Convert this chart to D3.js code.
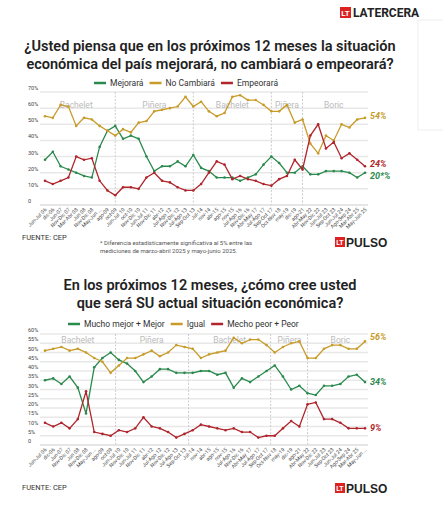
<!DOCTYPE html><html><head><meta charset="utf-8"><script src="https://cdn.jsdelivr.net/npm/d3@7"></script>
<style>body{margin:0;background:#fff;font-family:Roboto,"Open Sans",sans-serif}</style></head><body><svg id="c" width="443" height="505"></svg><script>
const labels1=["Jun-Jul 06","dic-06","Jun-07","Nov-Dic 07","Mar-Abr 08","Jun 08","Nov-Dic 08","May-Jun ...","ago-09","oct-09","Jun-Jul 10","oct-10","Nov-Dic 10","Jun-Jul 11","Nov-Dic 11","abr-12","Jul-Ago 12","Nov-Dic 12","Jul-Ago 13","Sep-Oct 13","Jul-14","nov-14","abr-15","ago-15","nov-15","Jul-Ago 16","Nov-Dic 16","Abr-May 17","Jul-Ago 17","Sep-Oct 17","Oct-Nov 18","may-19","dic-19","ago-21","Abr-May 22","Nov-Dic 22","Jun-Jul 23","Sep-Oct 23","Jun-Jul 24","Ago-Sep 24","Mar-Abr 25","May-Jun 25"];
const mejorara=[28,33,24,22,20,18,17,36,46,49,41,43,41,30,21,24,24,27,24,31,23,21,17,17,17,15,17,19,25,30,26,20,20,24,19,19,21,21,21,20,17,20];
const noCambiara=[55,54,62,61,49,54,53,49,46,43,47,45,51,52,58,59,60,61,67,61,64,58,55,57,67,68,65,65,62,58,58,62,51,53,38,32,43,40,50,48,53,54];
const empeorara=[15,13,15,17,30,28,29,15,9,6,11,11,10,17,20,15,14,11,9,9,13,20,27,25,16,18,16,15,13,12,16,18,28,22,43,50,35,39,29,32,28,24];
const labels2=["Jun-Jul 06","dic-06","Jun-07","Nov-Dic 07","Jun 08","Nov-Dic 08","May-Jun ...","ago-09","oct-09","Jun-Jul 10","Nov-Dic 10","Jun-Jul 11","Nov-Dic 11","abr-12","Jul-Ago 12","Nov-Dic 12","Jul-Ago 13","Sep-Oct 13","Jul-14","nov-14","abr-15","ago-15","nov-15","Jul-Ago 16","Nov-Dic 16","Abr-May 17","Jul-Ago 17","Sep-Oct 17","Oct-Nov 18","may-19","dic-19","ago-21","Abr-May 22","Nov-Dic 22","Jun-Jul 23","Sep-Oct 23","Jun-Jul 24","Ago-Sep 24","Mar-Abr 25","May-Jun ..."];
const mejor=[35,36,33,37,31,17,42,47,50,46,44,40,34,37,41,41,39,39,39,40,40,38,39,31,36,34,37,40,43,37,30,32,28,27,32,32,33,37,38,34];
const igual=[51,52,53,51,52,50,47,45,39,43,47,47,49,51,48,50,54,53,52,47,49,50,51,58,55,57,57,54,50,53,55,56,47,47,52,54,54,52,52,56];
const peor=[12,10,12,9,14,29,7,6,5,8,7,9,15,10,9,7,4,6,8,11,10,9,8,9,7,7,4,5,5,9,13,10,22,23,14,14,12,9,9,9];
const G="#2a8a4e",Y="#c89b2a",R="#b0252c";
const svg=d3.select("#c");
svg.append("rect").attr("x",340).attr("y",7).attr("width",11).attr("height",11).attr("fill","#d22");
svg.append("text").attr("x",345.5).attr("y",16).attr("text-anchor","middle").attr("fill","#fff").attr("font-size",8).attr("font-weight",700).text("LT");
svg.append("text").attr("x",353).attr("y",17).attr("font-size",12).attr("font-weight",700).attr("fill","#222").text("LATERCERA");
svg.append("rect").attr("x",418).attr("y",20).attr("width",30).attr("height",110).attr("fill","none").attr("stroke","#eee");
function pulso(x,y){svg.append("rect").attr("x",x).attr("y",y-9).attr("width",10).attr("height",10).attr("fill","#d22");
svg.append("text").attr("x",x+5).attr("y",y-1).attr("text-anchor","middle").attr("fill","#fff").attr("font-size",7).attr("font-weight",700).text("LT");
svg.append("text").attr("x",x+11).attr("y",y+1).attr("font-size",12).attr("font-weight",700).attr("font-family","'Liberation Sans Narrow',sans-serif").attr("fill","#222").text("PULSO");}
function chart(o){
 o.title.forEach((t,i)=>svg.append("text").attr("x",210).attr("y",o.ty+i*18).attr("text-anchor","middle").attr("font-size",14.5).attr("font-weight",600).attr("fill","#222").text(t));
 let lx=o.legX;o.series.forEach(s=>{svg.append("line").attr("x1",lx).attr("x2",lx+12).attr("y1",o.ly).attr("y2",o.ly).attr("stroke",s.c).attr("stroke-width",2.5);
  const t=svg.append("text").attr("x",lx+16).attr("y",o.ly+3).attr("font-size",8.5).attr("fill","#333").text(s.n);lx+=16+t.node().getComputedTextLength()+6;});
 const x=d3.scaleLinear().domain([0,o.labels.length-1]).range([45,365]);
 const y=d3.scaleLinear().domain([0,o.max]).range([o.y0,o.y1]);
 const g=svg.append("g");
 o.ticks.forEach(v=>{g.append("line").attr("x1",40).attr("x2",368).attr("y1",y(v)).attr("y2",y(v)).attr("stroke",v==0?"#ccc":"#e8e8e8").attr("stroke-width",v==0?1:1.5);
  g.append("text").attr("x",28).attr("y",y(v)-2).attr("font-size",5.5).attr("fill","#444").text(v==0?"0":v+"%");});
 o.div.forEach(d=>g.append("line").attr("x1",x(d)).attr("x2",x(d)).attr("y1",o.y1).attr("y2",o.y0).attr("stroke","#ccc").attr("stroke-dasharray","2,1.5"));
 o.pres.forEach(p=>g.append("text").attr("x",x(p[1])).attr("y",o.py).attr("text-anchor","middle").attr("font-size",8.5).attr("fill","#bbb").text(p[0]));
 o.series.forEach(s=>{g.append("path").datum(s.v).attr("fill","none").attr("stroke",s.c).attr("stroke-width",1.3).attr("d",d3.line().x((d,i)=>x(i)).y(d=>y(d)));
  g.selectAll(null).data(s.v).join("circle").attr("cx",(d,i)=>x(i)).attr("cy",d=>y(d)).attr("r",1.3).attr("fill",s.c);
  g.append("text").attr("x",370).attr("y",y(s.v[s.v.length-1])+3+(s.dy||0)).attr("font-size",9).attr("font-weight",700).attr("font-style","italic").attr("fill",s.c).text(s.end);});
 o.labels.forEach((l,i)=>g.append("text").attr("transform",`translate(${x(i)+2},${o.y0+5}) rotate(-45)`).attr("text-anchor","end").attr("font-size",5.2).attr("fill","#444").text(l));
}
chart({title:["¿Usted piensa que en los próximos 12 meses la situación","económica del país mejorará, no cambiará o empeorará?"],ty:51,ly:83,legX:94,labels:labels1,max:70,y0:205,y1:92,ticks:[0,10,20,30,40,50,60,70],
 div:[9,19,29,33],pres:[["Bachelet",4],["Piñera",14],["Bachelet",24],["Piñera",31],["Boric",37]],py:108,
 series:[{n:"Mejorará",c:G,v:mejorara,end:"20*%",dy:3},{n:"No Cambiará",c:Y,v:noCambiara,end:"54%",dy:-2},{n:"Empeorará",c:R,v:empeorara,end:"24%",dy:-2}]});
chart({title:["En los próximos 12 meses, ¿cómo cree usted","que será SU actual situación económica?"],ty:290,ly:324,legX:68,labels:labels2,max:60,y0:445,y1:334,ticks:[0,5,10,15,20,25,30,35,40,45,50,55,60],
 div:[8.6,17.5,27.5,32],pres:[["Bachelet",4],["Piñera",13],["Bachelet",22.5],["Piñera",29.8],["Boric",36]],py:343,
 series:[{n:"Mucho mejor + Mejor",c:G,v:mejor,end:"34%"},{n:"Igual",c:Y,v:igual,end:"56%",dy:-4},{n:"Mecho peor + Peor",c:R,v:peor,end:"9%"}]});
svg.append("text").attr("x",22).attr("y",240).attr("font-size",7.5).attr("fill","#333").text("FUENTE: CEP");
svg.append("text").attr("x",100).attr("y",245).attr("font-size",6).attr("fill","#555").text("* Diferencia estadísticamente significativa al 5% entre las");
svg.append("text").attr("x",100).attr("y",253).attr("font-size",6).attr("fill","#555").text("mediciones de marzo-abril 2025 y mayo-junio 2025.");
svg.append("text").attr("x",22).attr("y",490).attr("font-size",7.5).attr("fill","#333").text("FUENTE: CEP");
pulso(335,246);pulso(335,492);
</script></body></html>
